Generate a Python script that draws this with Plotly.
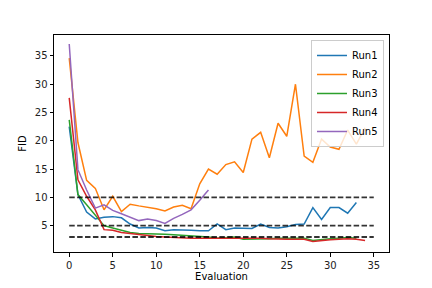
import plotly.graph_objects as go

run1 = [22.5, 10.5, 7.4, 6.2, 6.5, 6.6, 6.4, 5.3, 4.6, 4.7, 4.6, 4.1, 4.3, 4.3, 4.2, 4.1, 4.1,
        5.3, 4.3, 4.6, 4.5, 4.5, 5.3, 4.7, 4.6, 4.8, 5.2, 5.3, 8.2, 6.1, 8.2, 8.2, 7.2, 9.1]
run2 = [34.6, 19.7, 13.0, 11.6, 7.8, 10.2, 7.5, 8.8, 8.5, 8.3, 8.0, 7.6, 8.3, 8.6, 8.0, 12.4,
        15.0, 14.1, 15.8, 16.3, 14.4, 20.3, 21.5, 17.0, 23.1, 20.8, 30.0, 17.3, 16.2, 20.3,
        18.9, 18.5, 21.9, 19.4, 22.3]
run3 = [23.7, 10.5, 8.7, 6.9, 5.0, 4.6, 4.2, 3.8, 3.6, 3.6, 3.6, 3.5, 3.4, 3.3, 3.3, 3.2, 3.0,
        2.8, 2.9, 3.0, 2.6, 2.6, 2.7, 2.7, 2.8, 2.8, 2.8, 2.8, 2.4, 2.6, 2.7, 2.8, 2.9, 2.8]
run4 = [27.6, 13.1, 10.2, 7.8, 4.3, 4.2, 3.8, 3.6, 3.4, 3.2, 3.1, 3.0, 2.9, 2.9, 2.8, 2.8, 2.8,
        2.8, 2.8, 2.9, 2.8, 2.8, 2.8, 2.7, 2.6, 2.6, 2.6, 2.6, 2.2, 2.4, 2.5, 2.6, 2.7, 2.6, 2.4]
run5 = [37.1, 14.9, 11.3, 8.1, 8.7, 7.7, 7.1, 6.5, 5.9, 6.2, 5.9, 5.4, 6.3, 7.0, 7.8, 9.5, 11.3]

runs = {"Run1": run1, "Run2": run2, "Run3": run3, "Run4": run4, "Run5": run5}
colors = ["#1f77b4", "#ff7f0e", "#2ca02c", "#d62728", "#9467bd"]
thresholds = [10, 5, 3]
thr_x = [0, 35]

x_ticks = [0, 5, 10, 15, 20, 25, 30, 35]
y_ticks = [5, 10, 15, 20, 25, 30, 35]

fig = go.Figure()
for (name, vals), c in zip(runs.items(), colors):
    fig.add_trace(go.Scatter(x=list(range(len(vals))), y=vals, mode="lines", name=name,
                             line=dict(color=c, width=1.5)))
for t in thresholds:
    fig.add_trace(go.Scatter(x=thr_x, y=[t, t], mode="lines", showlegend=False,
                             line=dict(color="rgba(0,0,0,0.8)", width=1.8, dash="5.5px,2.4px"),
                             hoverinfo="skip"))

axis_common = dict(showgrid=False, zeroline=False, showline=True, linecolor="black",
                   linewidth=1, mirror=True, ticks="outside", ticklen=3.5, tickwidth=1,
                   tickcolor="black", tickfont=dict(size=10, color="#222"), automargin=False)
fig.update_layout(
    width=432, height=288,
    margin=dict(l=54, r=43, t=35, b=36, autoexpand=False),
    paper_bgcolor="white", plot_bgcolor="white",
    font=dict(family="DejaVu Sans", size=10, color="black"),
    xaxis=dict(range=[-1.75, 36.75], tickvals=x_ticks,
               title=dict(text="Evaluation", font=dict(size=10), standoff=2), **axis_common),
    yaxis=dict(range=[0.35, 38.7], tickvals=y_ticks,
               title=dict(text="FID", font=dict(size=10), standoff=6), **axis_common),
    legend=dict(x=0.985, y=0.977, xanchor="right", yanchor="top",
                bordercolor="#ccc", borderwidth=1, bgcolor="rgba(255,255,255,0.8)",
                font=dict(size=10), tracegroupgap=0, itemwidth=30),
)
fig.write_html("out.html", config={"displayModeBar": False, "staticPlot": True},
               post_script="document.body.style.margin='0';document.body.style.overflow='hidden';")
